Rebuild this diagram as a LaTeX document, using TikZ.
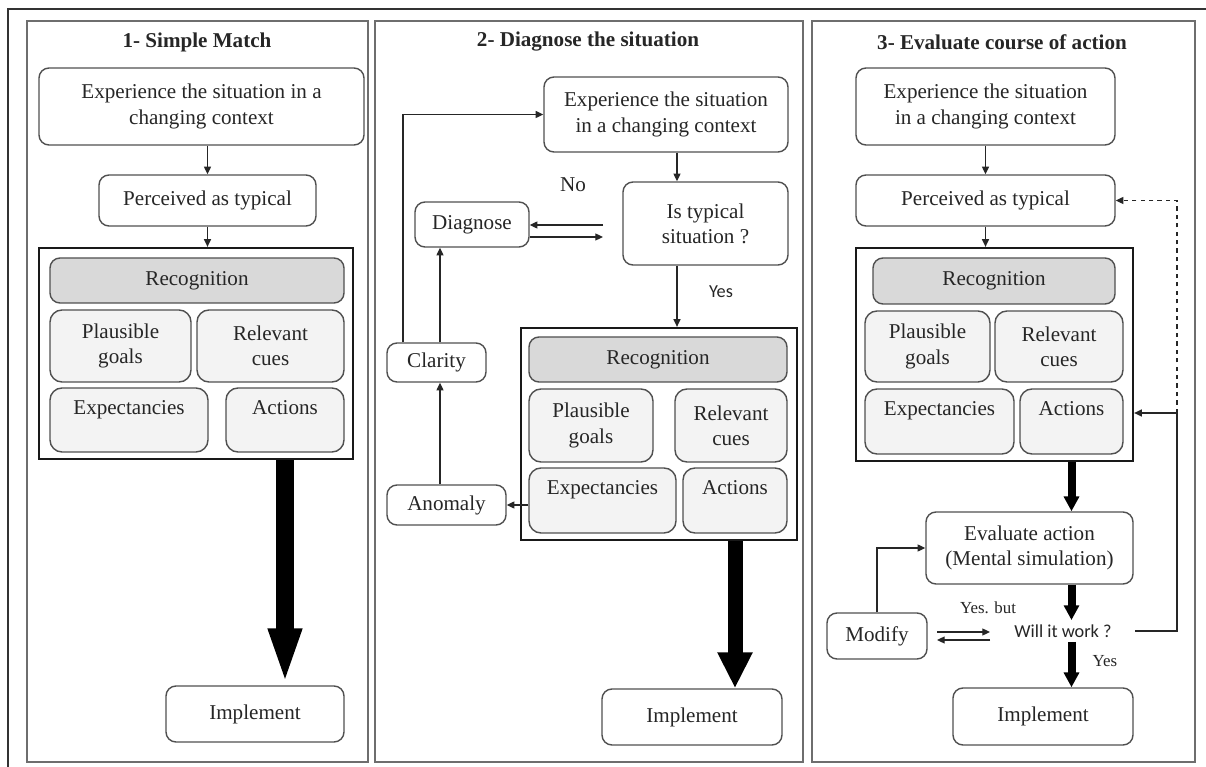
\documentclass[tikz,border=0pt]{standalone}
\usepackage{fontspec}
\setmainfont{Liberation Serif}
\newfontfamily\calfont{Carlito}
\usetikzlibrary{arrows.meta}

\definecolor{txtgray}{HTML}{262626}
\definecolor{edgegray}{HTML}{505050}
\definecolor{panelgray}{HTML}{6E6E6E}
\definecolor{recfill}{HTML}{D9D9D9}
\definecolor{cellfill}{HTML}{F3F3F3}

\tikzset{
  sz/.style 2 args={minimum width=#1*0.025cm, minimum height=#2*0.025cm},
  box/.style={draw=edgegray, line width=1pt, rounded corners=0.25cm, fill=white,
    align=center, inner sep=0pt, text=txtgray},
  cell/.style={box, fill=cellfill, rounded corners=0.3cm},
  recbox/.style={box, fill=recfill},
  group/.style={draw=black!90, line width=1.6pt, inner sep=0pt},
  panel/.style={draw=panelgray, line width=1.4pt},
  arr/.style={-{Triangle[length=5.5pt,width=5pt]}, line width=0.9pt, black!85},
  bigarr/.style n args={3}{line width=#1, -{Triangle[width=#2,length=#3]}, black},
  title/.style={font=\fontsize{15}{18}\selectfont\bfseries, text=black!85},
  lbl/.style={text=txtgray, inner sep=1pt}
}

\begin{document}
\begin{tikzpicture}[x=0.025cm, y=-0.025cm, font=\fontsize{15}{18}\selectfont]
\useasboundingbox (0,0) rectangle (1206,767);
\fill[white] (0,0) rectangle (1206,767);

% frame and panels
\draw[line width=1.5pt, black!80] (8,767) -- (8,9) -- (1206,9);
\draw[panel] (27,21) rectangle (368,762);
\draw[panel] (375,21) rectangle (803,762);
\draw[panel] (812,21) rectangle (1195,762);

%% 1- Simple Match
\node[title] (t1) at (197,42) {1- Simple Match};
\node[box, sz={325}{77}] (exp1) at (201.5,106.5) {Experience the situation in a\\changing context};
\node[box, sz={217}{51}] (per1) at (207.5,200.5) {Perceived as typical};
\node[group, sz={314}{211}] (grp1) at (196,353.5) {};
\node[recbox, sz={294}{45}] (rec1) at (197,280.5) {Recognition};
\node[cell, sz={141}{72}] (goal1) at (120.5,346) {Plausible\\goals};
\node[cell, sz={147}{72}] (cue1) at (270.5,346) {Relevant\\cues};
\node[cell, sz={158}{64}] (expt1) at (129,420) {Expectancies\\\mbox{}};
\node[cell, sz={118}{64}] (act1) at (285,420) {Actions\\\mbox{}};
\node[box, sz={178}{56}] (impl1) at (255,714) {Implement};

\draw[arr] (exp1.south -| per1) -- (per1.north);
\draw[arr] (per1.south) -- (per1.south |- grp1.north);
\draw[bigarr={0.425cm}{0.75cm}{1.425cm}] (act1 |- grp1.south) -- (act1 |- impl1.north);

%% 2- Diagnose the situation
\node[title] (t2) at (588,42) {2- Diagnose the situation};
\node[box, sz={244}{75}] (exp2) at (666,114.5) {Experience the situation\\in a changing context};
\node[box, sz={165}{83}] (typ2) at (705.5,223.5) {Is typical\\situation ?};
\node[box, sz={114}{45}] (diag2) at (472,224.5) {Diagnose};
\node[box, sz={99}{39}] (clar2) at (436.5,362.5) {Clarity};
\node[box, sz={119}{40}] (anom2) at (446.5,505) {Anomaly};
\node[group, sz={276}{212}] (grp2) at (659,434) {};
\node[recbox, sz={258}{45}] (rec2) at (658,359.5) {Recognition};
\node[cell, sz={124}{73}] (goal2) at (591,425.5) {Plausible\\goals};
\node[cell, sz={112}{73}] (cue2) at (731,425.5) {Relevant\\cues};
\node[cell, sz={147}{65}] (expt2) at (602.5,500.5) {Expectancies\\\mbox{}};
\node[cell, sz={104}{65}] (act2) at (735,500.5) {Actions\\\mbox{}};
\node[box, sz={180}{56}] (impl2) at (692,717) {Implement};
\node[lbl] (no2) at (573,185) {No};
\node[lbl, font=\calfont\fontsize{13}{15}\selectfont] (yes2) at (721,292) {Yes};

\coordinate (c2) at (677,0);
\coordinate (v2) at (440,0);
\coordinate (l2) at (403,0);
\coordinate (d2a) at (603,225);
\coordinate (d2b) at (603,237);
\draw[arr] (exp2.south -| c2) -- (typ2.north -| c2);
\draw[arr] (typ2.south -| c2) -- (grp2.north -| c2);
\draw[arr] (d2a) -- (d2a -| diag2.east);
\draw[arr] (d2b -| diag2.east) -- (d2b);
\draw[arr] (expt2.west |- anom2) -- (anom2.east);
\draw[arr] (anom2.north -| v2) -- (clar2.south -| v2);
\draw[arr] (clar2.north -| v2) -- (diag2.south -| v2);
\draw[arr] (clar2.north -| l2) |- (exp2.west);
\draw[bigarr={0.375cm}{0.82cm}{0.9cm}] (act2 |- grp2.south) -- (act2 |- impl2.north);

%% 3- Evaluate course of action
\node[title] (t3) at (1002,42) {3- Evaluate course of action};
\node[box, sz={259}{77}] (exp3) at (985.5,106.5) {Experience the situation\\in a changing context};
\node[box, sz={259}{51}] (per3) at (985.5,200.5) {Perceived as typical};
\node[group, sz={277}{213}] (grp3) at (994.5,354.5) {};
\node[recbox, sz={242}{46}] (rec3) at (994,281) {Recognition};
\node[cell, sz={125}{71}] (goal3) at (927.5,346.5) {Plausible\\goals};
\node[cell, sz={128}{71}] (cue3) at (1059,346.5) {Relevant\\cues};
\node[cell, sz={149}{65}] (expt3) at (939.5,421.5) {Expectancies\\\mbox{}};
\node[cell, sz={103}{65}] (act3) at (1071.5,421.5) {Actions\\\mbox{}};
\node[box, sz={207}{72}] (eval3) at (1029.5,548) {Evaluate action\\(Mental simulation)};
\node[lbl, font=\calfont\fontsize{13}{15}\selectfont, inner sep=3pt] (will3) at (1063,631) {Will it work ?};
\node[box, sz={100}{46}] (mod3) at (877,636) {Modify};
\node[box, sz={180}{57}] (impl3) at (1043,716.5) {Implement};
\node[lbl, font=\fontsize{12}{14}\selectfont] (ybut3) at (988,608) {Yes. but};
\node[lbl, font=\fontsize{12}{14}\selectfont] (yes3) at (1105,661) {Yes};

\coordinate (m3a) at (937,632);
\coordinate (m3b) at (990,640);
\coordinate (w3r) at (1135,631);
\coordinate (fb3) at (1177,413);
\draw[arr] (exp3) -- (per3);
\draw[arr] (per3.south) -- (per3.south |- grp3.north);
\draw[bigarr={0.2cm}{0.37cm}{0.37cm}] (act3 |- grp3.south) -- (act3 |- eval3.north);
\draw[bigarr={0.2cm}{0.37cm}{0.37cm}] (act3 |- eval3.south) -- (act3 |- will3.north);
\draw[bigarr={0.2cm}{0.37cm}{0.37cm}] (act3 |- will3.south) -- (act3 |- impl3.north);
\draw[arr] (m3a) -- (m3a -| m3b);
\draw[arr] (m3b) -- (m3b -| m3a);
\draw[arr] (mod3.north) |- (eval3.west);
\draw[arr] (w3r) -| (fb3) -- (fb3 -| grp3.east);
\draw[arr, dashed] (fb3) |- (per3.east);
\end{tikzpicture}
\end{document}
